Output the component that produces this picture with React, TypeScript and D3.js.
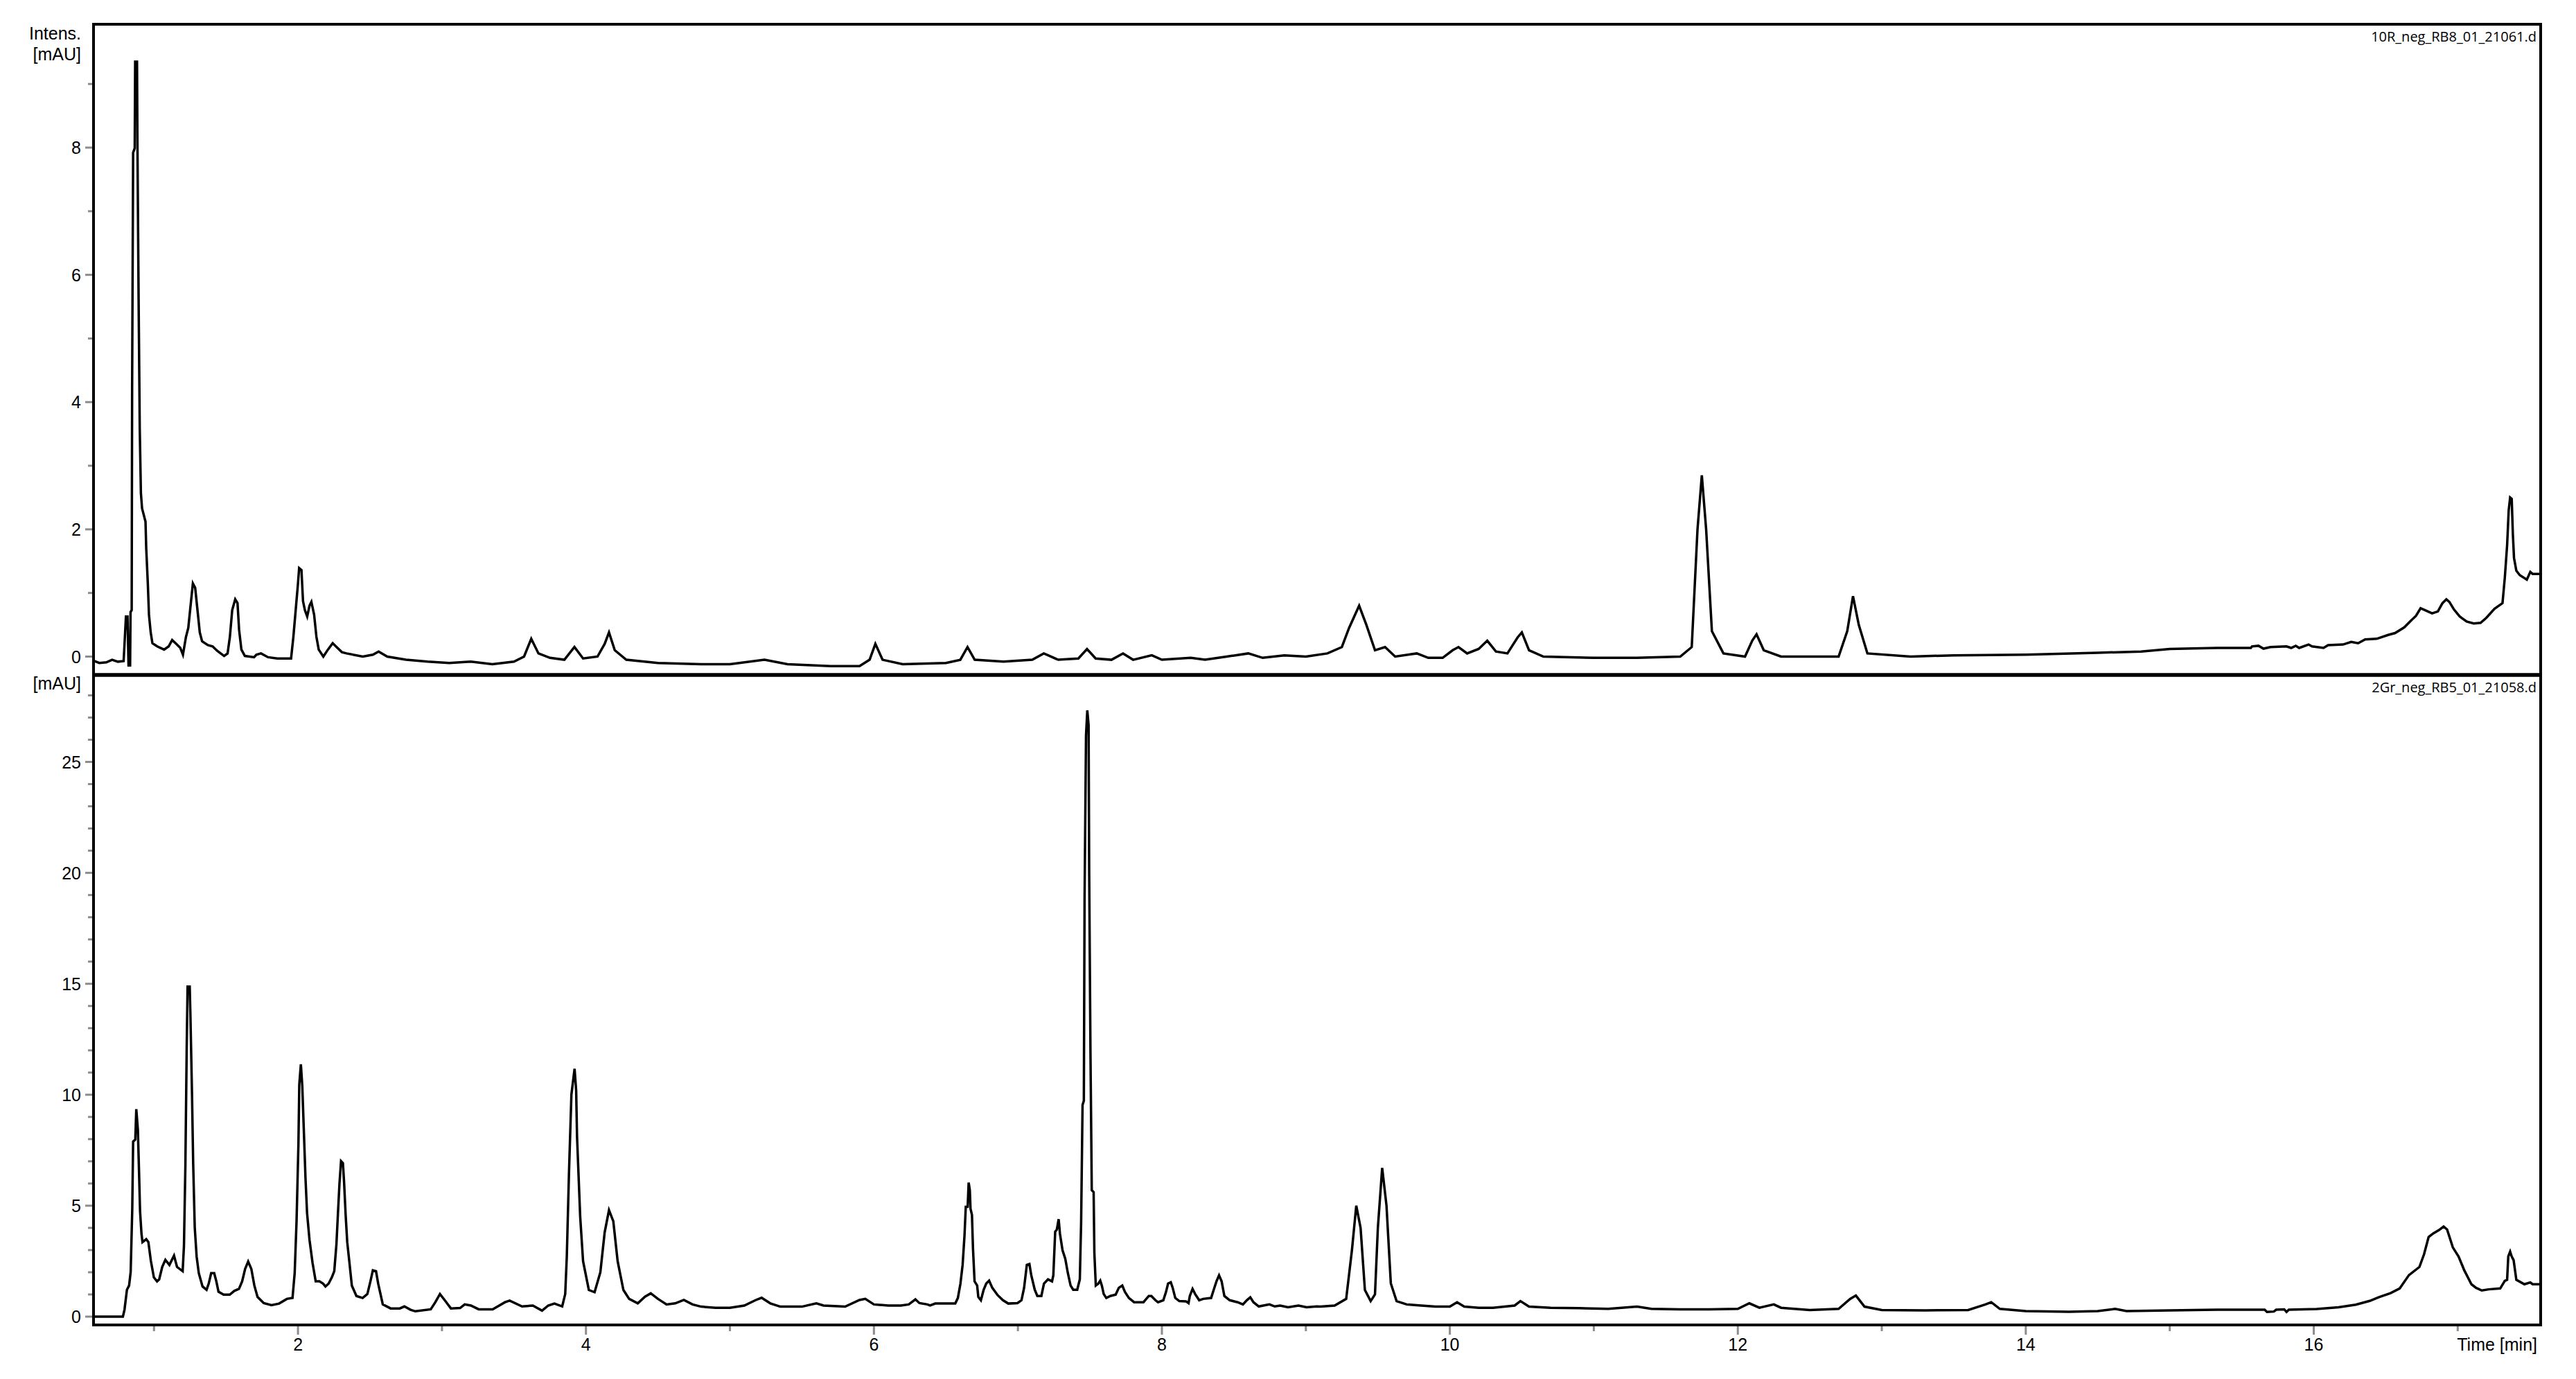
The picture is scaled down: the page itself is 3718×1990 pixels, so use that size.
import React from "react";
import * as d3 from "d3";

// ---------- data ----------
const timeDomain = [0.58, 17.576];
const xMajorTicks = [2, 4, 6, 8, 10, 12, 14, 16];
const xMinorTicks = [1, 3, 5, 7, 9, 11, 13, 15, 17];
const topMajorTicks = [0, 2, 4, 6, 8];
const topMinorTicks = [1, 3, 5, 7, 9];
const bottomMajorTicks = [0, 5, 10, 15, 20, 25];
const bottomMinorTicks = [1, 2, 3, 4, 6, 7, 8, 9, 11, 12, 13, 14, 16, 17, 18, 19, 21, 22, 23, 24, 26, 27, 28];
const topTitle = "10R_neg_RB8_01_21061.d";
const bottomTitle = "2Gr_neg_RB5_01_21058.d";

// Upper trace: [time (min), intensity (mAU)]
const topTrace: [number, number][] = [
  [0.585, -0.07], [0.62, -0.1], [0.669, -0.09], [0.709, -0.05], [0.749, -0.08], [0.789, -0.07],
  [0.794, 0.14], [0.805, 0.63], [0.816, 0.63], [0.823, -0.14], [0.834, -0.14], [0.837, 0.7],
  [0.845, 0.73], [0.848, 4.21], [0.855, 7.92], [0.866, 7.99], [0.869, 9.35], [0.882, 9.35],
  [0.885, 8.06], [0.893, 5.63], [0.901, 3.58], [0.909, 2.57], [0.917, 2.33], [0.941, 2.12],
  [0.946, 1.7], [0.957, 1.15], [0.965, 0.66], [0.977, 0.38], [0.989, 0.21], [1.022, 0.16],
  [1.07, 0.11], [1.102, 0.16], [1.126, 0.26], [1.15, 0.21], [1.182, 0.14], [1.201, 0.03],
  [1.222, 0.31], [1.238, 0.45], [1.254, 0.8], [1.27, 1.15], [1.286, 1.08], [1.302, 0.73],
  [1.318, 0.38], [1.334, 0.24], [1.374, 0.18], [1.407, 0.16], [1.439, 0.09], [1.487, 0.01],
  [1.511, 0.05], [1.527, 0.31], [1.543, 0.73], [1.564, 0.9], [1.58, 0.84], [1.591, 0.42],
  [1.607, 0.11], [1.631, 0.01], [1.695, -0.01], [1.711, 0.03], [1.743, 0.05], [1.792, -0.01],
  [1.856, -0.03], [1.952, -0.03], [1.968, 0.31], [1.984, 0.73], [2.0, 1.15], [2.008, 1.39],
  [2.024, 1.36], [2.035, 0.87], [2.048, 0.73], [2.064, 0.63], [2.08, 0.8], [2.093, 0.86],
  [2.112, 0.66], [2.128, 0.31], [2.144, 0.11], [2.176, 0.0], [2.208, 0.11], [2.241, 0.21],
  [2.273, 0.14], [2.305, 0.07], [2.337, 0.05], [2.45, 0.0], [2.52, 0.03], [2.56, 0.08],
  [2.62, 0.0], [2.75, -0.05], [2.9, -0.08], [3.05, -0.1], [3.2, -0.08], [3.35, -0.12],
  [3.5, -0.08], [3.57, 0.0], [3.62, 0.28], [3.67, 0.05], [3.75, -0.02], [3.85, -0.05],
  [3.92, 0.15], [3.98, -0.03], [4.08, 0.0], [4.13, 0.2], [4.16, 0.38], [4.2, 0.1],
  [4.28, -0.05], [4.5, -0.1], [4.8, -0.12], [5.0, -0.12], [5.24, -0.05], [5.4, -0.12],
  [5.7, -0.15], [5.9, -0.15], [5.97, -0.05], [6.01, 0.2], [6.06, -0.05], [6.2, -0.12],
  [6.5, -0.1], [6.6, -0.05], [6.65, 0.15], [6.7, -0.05], [6.9, -0.08], [7.1, -0.05],
  [7.18, 0.05], [7.28, -0.05], [7.42, -0.03], [7.48, 0.12], [7.54, -0.03], [7.65, -0.05],
  [7.73, 0.05], [7.8, -0.05], [7.93, 0.02], [8.0, -0.05], [8.2, -0.02], [8.3, -0.05],
  [8.45, 0.0], [8.6, 0.05], [8.7, -0.02], [8.85, 0.02], [9.0, 0.0], [9.15, 0.05],
  [9.25, 0.15], [9.3, 0.45], [9.37, 0.8], [9.42, 0.5], [9.48, 0.1], [9.55, 0.15],
  [9.62, 0.0], [9.77, 0.05], [9.85, -0.02], [9.95, -0.02], [10.02, 0.1], [10.06, 0.15],
  [10.12, 0.05], [10.2, 0.12], [10.26, 0.25], [10.32, 0.08], [10.4, 0.05], [10.47, 0.3],
  [10.5, 0.38], [10.55, 0.1], [10.65, 0.0], [11.0, -0.02], [11.3, -0.02], [11.6, 0.0],
  [11.68, 0.15], [11.72, 2.0], [11.75, 2.85], [11.78, 2.0], [11.82, 0.4], [11.9, 0.05],
  [12.05, 0.0], [12.1, 0.25], [12.13, 0.35], [12.18, 0.1], [12.3, 0.0], [12.7, 0.0],
  [12.76, 0.4], [12.8, 0.95], [12.84, 0.5], [12.9, 0.05], [13.2, 0.0], [13.5, 0.02],
  [14.0, 0.03], [14.5, 0.06], [14.8, 0.08], [15.0, 0.12], [15.33, 0.136], [15.563, 0.136],
  [15.571, 0.16], [15.616, 0.17], [15.651, 0.125], [15.699, 0.15], [15.811, 0.16], [15.843, 0.136],
  [15.875, 0.17], [15.899, 0.136], [15.964, 0.19], [15.988, 0.16], [16.068, 0.136], [16.1, 0.18],
  [16.204, 0.19], [16.26, 0.23], [16.308, 0.21], [16.357, 0.27], [16.437, 0.28], [16.517, 0.34],
  [16.565, 0.37], [16.629, 0.46], [16.677, 0.57], [16.71, 0.64], [16.742, 0.76], [16.782, 0.72],
  [16.822, 0.68], [16.862, 0.71], [16.894, 0.84], [16.921, 0.9], [16.942, 0.86], [16.974, 0.74],
  [17.014, 0.63], [17.062, 0.55], [17.111, 0.52], [17.159, 0.53], [17.199, 0.61], [17.255, 0.75],
  [17.311, 0.84], [17.327, 1.24], [17.343, 1.75], [17.354, 2.3], [17.364, 2.5], [17.375, 2.48],
  [17.383, 1.92], [17.391, 1.55], [17.407, 1.35], [17.431, 1.28], [17.48, 1.21], [17.504, 1.33],
  [17.52, 1.3], [17.552, 1.3], [17.576, 1.3],
];

// Lower trace: [time (min), intensity (mAU)]
const bottomTrace: [number, number][] = [
  [0.58, 0.0], [0.784, 0.0], [0.795, 0.31], [0.812, 1.21], [0.827, 1.4], [0.838, 2.02],
  [0.849, 4.86], [0.855, 7.89], [0.87, 7.98], [0.877, 9.35], [0.888, 8.42], [0.896, 6.54],
  [0.903, 4.77], [0.913, 3.74], [0.92, 3.36], [0.946, 3.49], [0.961, 3.36], [0.978, 2.52],
  [0.999, 1.77], [1.021, 1.59], [1.036, 1.68], [1.057, 2.24], [1.079, 2.56], [1.107, 2.33],
  [1.139, 2.75], [1.16, 2.24], [1.199, 2.05], [1.208, 3.18], [1.218, 6.82], [1.227, 12.07],
  [1.233, 14.87], [1.248, 14.87], [1.253, 13.56], [1.264, 10.01], [1.272, 6.92], [1.283, 4.02],
  [1.296, 2.71], [1.311, 1.96], [1.337, 1.36], [1.365, 1.21], [1.38, 1.49], [1.397, 1.96],
  [1.418, 1.96], [1.433, 1.59], [1.448, 1.12], [1.483, 0.99], [1.526, 0.99], [1.558, 1.16],
  [1.59, 1.25], [1.612, 1.59], [1.633, 2.15], [1.654, 2.48], [1.676, 2.15], [1.697, 1.4],
  [1.719, 0.89], [1.762, 0.61], [1.816, 0.52], [1.869, 0.59], [1.923, 0.8], [1.962, 0.84],
  [1.977, 1.96], [1.99, 4.3], [2.003, 7.76], [2.009, 10.47], [2.02, 11.37], [2.03, 10.38],
  [2.041, 8.32], [2.052, 6.26], [2.063, 4.67], [2.08, 3.46], [2.101, 2.43], [2.123, 1.59],
  [2.149, 1.59], [2.174, 1.49], [2.191, 1.36], [2.213, 1.49], [2.235, 1.77], [2.252, 2.05],
  [2.267, 3.27], [2.277, 4.58], [2.288, 5.98], [2.299, 7.01], [2.312, 6.92], [2.32, 6.08],
  [2.331, 4.58], [2.342, 3.36], [2.359, 2.33], [2.374, 1.4], [2.406, 0.93], [2.449, 0.84],
  [2.482, 1.02], [2.503, 1.59], [2.52, 2.09], [2.542, 2.05], [2.557, 1.49], [2.589, 0.55],
  [2.643, 0.37], [2.707, 0.37], [2.739, 0.46], [2.782, 0.31], [2.815, 0.24], [2.922, 0.33],
  [2.954, 0.65], [2.986, 1.02], [3.019, 0.74], [3.062, 0.37], [3.126, 0.39], [3.158, 0.55],
  [3.201, 0.5], [3.255, 0.33], [3.352, 0.33], [3.438, 0.65], [3.47, 0.72], [3.556, 0.46],
  [3.631, 0.5], [3.695, 0.27], [3.738, 0.5], [3.781, 0.59], [3.835, 0.46], [3.856, 1.02],
  [3.867, 2.71], [3.882, 6.45], [3.899, 10.01], [3.921, 11.17], [3.932, 10.19], [3.938, 8.13],
  [3.96, 4.5], [3.98, 2.5], [4.02, 1.2], [4.06, 1.1], [4.1, 2.0], [4.13, 3.8],
  [4.16, 4.8], [4.19, 4.3], [4.22, 2.5], [4.26, 1.2], [4.3, 0.8], [4.36, 0.6],
  [4.41, 0.9], [4.45, 1.05], [4.5, 0.8], [4.56, 0.55], [4.62, 0.6], [4.68, 0.75],
  [4.74, 0.55], [4.8, 0.45], [4.9, 0.4], [5.0, 0.4], [5.1, 0.5], [5.18, 0.75],
  [5.22, 0.85], [5.28, 0.6], [5.35, 0.45], [5.5, 0.45], [5.6, 0.6], [5.65, 0.5],
  [5.8, 0.45], [5.9, 0.75], [5.94, 0.8], [6.0, 0.55], [6.1, 0.5], [6.187, 0.5],
  [6.242, 0.55], [6.288, 0.78], [6.316, 0.61], [6.371, 0.55], [6.39, 0.5], [6.426, 0.59],
  [6.565, 0.59], [6.583, 0.84], [6.601, 1.49], [6.616, 2.33], [6.629, 3.64], [6.638, 4.95],
  [6.651, 4.95], [6.658, 6.04], [6.666, 5.7], [6.671, 4.86], [6.681, 4.58], [6.688, 3.08],
  [6.699, 1.59], [6.717, 1.4], [6.725, 0.89], [6.743, 0.74], [6.762, 1.21], [6.78, 1.49],
  [6.8, 1.62], [6.822, 1.3], [6.859, 0.97], [6.896, 0.74], [6.933, 0.59], [6.997, 0.61],
  [7.025, 0.74], [7.043, 1.3], [7.062, 2.33], [7.08, 2.37], [7.093, 1.86], [7.117, 1.21],
  [7.135, 0.93], [7.163, 0.93], [7.181, 1.49], [7.209, 1.68], [7.237, 1.59], [7.246, 1.86],
  [7.259, 3.83], [7.27, 3.92], [7.283, 4.39], [7.292, 3.74], [7.31, 2.99], [7.329, 2.61],
  [7.347, 1.96], [7.366, 1.4], [7.384, 1.21], [7.412, 1.21], [7.43, 1.68], [7.439, 4.2],
  [7.449, 9.54], [7.458, 9.73], [7.463, 18.8], [7.473, 26.2], [7.482, 27.32], [7.491, 26.66],
  [7.495, 20.11], [7.504, 11.88], [7.513, 5.7], [7.526, 5.61], [7.531, 2.89], [7.541, 1.4],
  [7.559, 1.49], [7.572, 1.62], [7.583, 1.4], [7.596, 1.02], [7.614, 0.84], [7.642, 0.93],
  [7.679, 0.99], [7.701, 1.3], [7.725, 1.4], [7.743, 1.12], [7.771, 0.84], [7.807, 0.65],
  [7.872, 0.65], [7.909, 0.93], [7.927, 0.93], [7.955, 0.74], [7.973, 0.65], [8.01, 0.74],
  [8.029, 1.12], [8.043, 1.49], [8.062, 1.55], [8.075, 1.3], [8.093, 0.84], [8.121, 0.7],
  [8.167, 0.69], [8.185, 0.61], [8.194, 0.93], [8.213, 1.25], [8.231, 1.02], [8.259, 0.74],
  [8.287, 0.8], [8.342, 0.84], [8.36, 1.21], [8.379, 1.59], [8.397, 1.86], [8.415, 1.59],
  [8.434, 0.93], [8.471, 0.74], [8.526, 0.65], [8.563, 0.55], [8.59, 0.74], [8.614, 0.87],
  [8.636, 0.65], [8.673, 0.46], [8.747, 0.55], [8.784, 0.46], [8.821, 0.5], [8.876, 0.42],
  [8.949, 0.5], [9.005, 0.42], [9.075, 0.46], [9.1, 0.45], [9.2, 0.5], [9.28, 0.8],
  [9.32, 3.0], [9.35, 5.0], [9.38, 4.0], [9.41, 1.2], [9.45, 0.7], [9.48, 1.0],
  [9.5, 4.0], [9.53, 6.7], [9.56, 5.0], [9.59, 1.5], [9.63, 0.7], [9.7, 0.55],
  [9.8, 0.5], [9.9, 0.45], [10.0, 0.45], [10.05, 0.65], [10.1, 0.45], [10.2, 0.4],
  [10.3, 0.4], [10.45, 0.5], [10.49, 0.7], [10.55, 0.45], [10.7, 0.4], [10.9, 0.38],
  [11.1, 0.35], [11.3, 0.45], [11.4, 0.35], [11.6, 0.33], [11.8, 0.33], [12.0, 0.35],
  [12.08, 0.6], [12.15, 0.4], [12.25, 0.55], [12.3, 0.4], [12.5, 0.3], [12.7, 0.35],
  [12.78, 0.8], [12.82, 0.95], [12.88, 0.45], [13.0, 0.3], [13.3, 0.28], [13.6, 0.3],
  [13.72, 0.55], [13.76, 0.65], [13.82, 0.35], [14.0, 0.25], [14.3, 0.22], [14.5, 0.25],
  [14.62, 0.35], [14.7, 0.25], [15.0, 0.28], [15.33, 0.31], [15.659, 0.31], [15.675, 0.21],
  [15.723, 0.23], [15.739, 0.31], [15.795, 0.33], [15.811, 0.21], [15.827, 0.31], [16.02, 0.34],
  [16.172, 0.42], [16.292, 0.54], [16.389, 0.71], [16.453, 0.88], [16.533, 1.06], [16.597, 1.27],
  [16.661, 1.87], [16.734, 2.24], [16.766, 2.81], [16.798, 3.59], [16.83, 3.75], [16.87, 3.9],
  [16.902, 4.06], [16.926, 3.93], [16.966, 3.12], [17.006, 2.71], [17.046, 2.08], [17.095, 1.46],
  [17.127, 1.3], [17.167, 1.18], [17.215, 1.23], [17.295, 1.27], [17.327, 1.61], [17.343, 1.66],
  [17.351, 2.71], [17.364, 2.93], [17.375, 2.71], [17.388, 2.55], [17.407, 1.66], [17.463, 1.46],
  [17.504, 1.54], [17.52, 1.46], [17.552, 1.46], [17.576, 1.46],
];

// ---------- layout ----------
const W = 3718;
const H = 1990;
const LEFT = 135;
const RIGHT = 3667;
const TOP_Y0 = 35;
const MID_Y = 974;
const BOT_Y1 = 1912;

const AXIS_FONT = "'Liberation Sans', Arial, sans-serif";
const TICK_COLOR = "#8c8c8c";

export default function App() {
  const x = d3.scaleLinear().domain(timeDomain).range([LEFT, RIGHT]);
  const yTop = d3.scaleLinear().domain([0, 8]).range([947.5, 213]);
  const yBot = d3.scaleLinear().domain([0, 25]).range([1900, 1099.5]);

  const lineTop = d3
    .line<[number, number]>()
    .x((d) => x(d[0]))
    .y((d) => yTop(d[1]));
  const lineBot = d3
    .line<[number, number]>()
    .x((d) => x(d[0]))
    .y((d) => yBot(d[1]));

  return (
    <svg
      width={W}
      height={H}
      style={{ position: "absolute", left: 0, top: 0, background: "#fff" }}
      xmlns="http://www.w3.org/2000/svg"
    >
      <rect x={0} y={0} width={W} height={H} fill="#fff" />
      <defs>
        <clipPath id="clipTop">
          <rect x={LEFT} y={TOP_Y0} width={RIGHT - LEFT} height={MID_Y - TOP_Y0} />
        </clipPath>
        <clipPath id="clipBot">
          <rect x={LEFT} y={MID_Y} width={RIGHT - LEFT} height={BOT_Y1 - MID_Y} />
        </clipPath>
      </defs>

      {/* traces */}
      <path
        d={lineTop(topTrace) || ""}
        fill="none"
        stroke="#000"
        strokeWidth={3.5}
        strokeLinejoin="miter"
        clipPath="url(#clipTop)"
      />
      <path
        d={lineBot(bottomTrace) || ""}
        fill="none"
        stroke="#000"
        strokeWidth={3.5}
        strokeLinejoin="miter"
        clipPath="url(#clipBot)"
      />

      {/* frames */}
      <rect x={LEFT} y={TOP_Y0} width={RIGHT - LEFT} height={MID_Y - TOP_Y0} fill="none" stroke="#000" strokeWidth={4} />
      <rect x={LEFT} y={MID_Y} width={RIGHT - LEFT} height={BOT_Y1 - MID_Y} fill="none" stroke="#000" strokeWidth={4} />
      <line x1={LEFT} x2={RIGHT} y1={MID_Y} y2={MID_Y} stroke="#000" strokeWidth={5.5} />

      {/* top y ticks */}
      {topMajorTicks.map((v) => (
        <g key={"tM" + v}>
          <line x1={LEFT - 12} x2={LEFT - 2} y1={yTop(v)} y2={yTop(v)} stroke={TICK_COLOR} strokeWidth={3} />
          <text x={117} y={yTop(v) + 9} textAnchor="end" fontFamily={AXIS_FONT} fontSize={25} fill="#000">
            {v}
          </text>
        </g>
      ))}
      {topMinorTicks.map((v) => (
        <line key={"tm" + v} x1={LEFT - 8} x2={LEFT - 2} y1={yTop(v)} y2={yTop(v)} stroke={TICK_COLOR} strokeWidth={3} />
      ))}

      {/* bottom y ticks */}
      {bottomMajorTicks.map((v) => (
        <g key={"bM" + v}>
          <line x1={LEFT - 12} x2={LEFT - 2} y1={yBot(v)} y2={yBot(v)} stroke={TICK_COLOR} strokeWidth={3} />
          <text x={117} y={yBot(v) + 9} textAnchor="end" fontFamily={AXIS_FONT} fontSize={25} fill="#000">
            {v}
          </text>
        </g>
      ))}
      {bottomMinorTicks.map((v) => (
        <line key={"bm" + v} x1={LEFT - 8} x2={LEFT - 2} y1={yBot(v)} y2={yBot(v)} stroke={TICK_COLOR} strokeWidth={3} />
      ))}

      {/* x ticks */}
      {xMajorTicks.map((t) => (
        <g key={"xM" + t}>
          <line x1={x(t)} x2={x(t)} y1={BOT_Y1 + 2} y2={BOT_Y1 + 14} stroke={TICK_COLOR} strokeWidth={3} />
          <text x={x(t)} y={1949} textAnchor="middle" fontFamily={AXIS_FONT} fontSize={25} fill="#000">
            {t}
          </text>
        </g>
      ))}
      {xMinorTicks.map((t) => (
        <line key={"xm" + t} x1={x(t)} x2={x(t)} y1={BOT_Y1 + 2} y2={BOT_Y1 + 9} stroke={TICK_COLOR} strokeWidth={3} />
      ))}

      {/* axis labels */}
      <text x={117} y={57} textAnchor="end" fontFamily={AXIS_FONT} fontSize={25} fill="#000">
        Intens.
      </text>
      <text x={117} y={87} textAnchor="end" fontFamily={AXIS_FONT} fontSize={25} fill="#000">
        [mAU]
      </text>
      <text x={117} y={995} textAnchor="end" fontFamily={AXIS_FONT} fontSize={25} fill="#000">
        [mAU]
      </text>
      <text x={3662} y={1949} textAnchor="end" fontFamily={AXIS_FONT} fontSize={25} fill="#000">
        Time [min]
      </text>

      {/* sample names */}
      <text x={3661} y={60} textAnchor="end" fontFamily="'Open Sans', 'Liberation Sans', sans-serif" fontSize={20} fill="#000">
        {topTitle}
      </text>
      <text x={3661} y={999} textAnchor="end" fontFamily="'Open Sans', 'Liberation Sans', sans-serif" fontSize={20} fill="#000">
        {bottomTitle}
      </text>
    </svg>
  );
}
